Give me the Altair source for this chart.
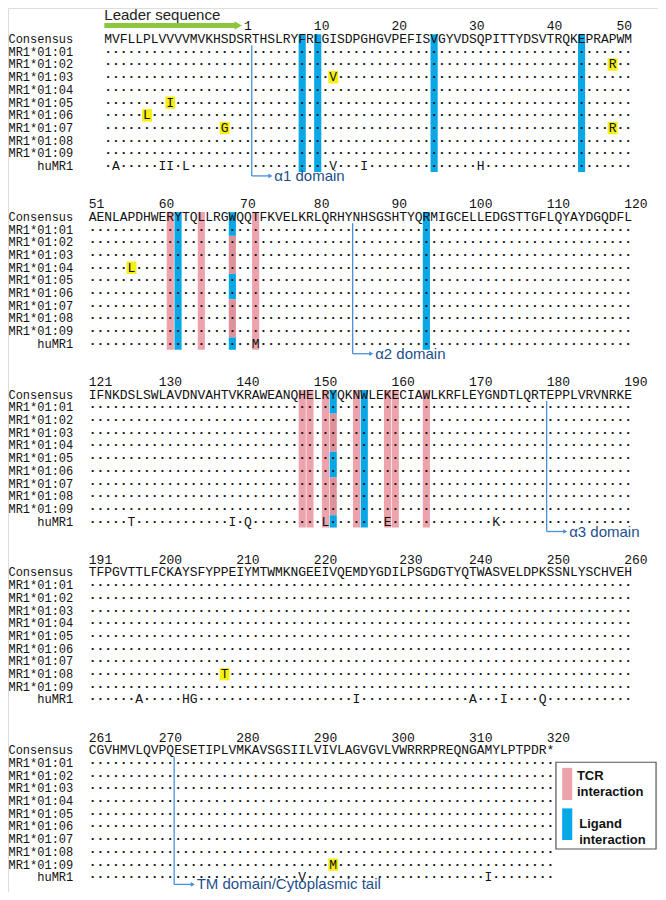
import altair as alt
import pandas as pd

# ---------------- data ----------------
LEADER = "MVFLLPLVVVVMVKHSDS"
MATURE = [
    "RTHSLRYFRLGISDPGHGVPEFISVGYVDSQPITTYDSVTRQKEPRAPWM",
    "AENLAPDHWERYTQLLRGWQQTFKVELKRLQRHYNHSGSHTYQRMIGCELLEDGSTTGFLQYAYDGQDFL",
    "IFNKDSLSWLAVDNVAHTVKRAWEANQHELRYQKNWLEKECIAWLKRFLEYGNDTLQRTEPPLVRVNRKE",
    "TFPGVTTLFCKAYSFYPPEIYMTWMKNGEEIVQEMDYGDILPSGDGTYQTWASVELDPKSSNLYSCHVEH",
    "CGVHMVLQVPQESETIPLVMKAVSGSIILVIVLAGVGVLVWRRRPREQNGAMYLPTPDR*",
]
BLOCK_STARTS = [1, 51, 121, 191, 261]
ROWS = ["Consensus", "MR1*01:01", "MR1*01:02", "MR1*01:03", "MR1*01:04",
        "MR1*01:05", "MR1*01:06", "MR1*01:07", "MR1*01:08", "MR1*01:09", "huMR1"]

ALLELE_MUTATIONS = [
    ("MR1*01:02", 48, "R"),
    ("MR1*01:03", 12, "V"),
    ("MR1*01:04", 56, "L"),
    ("MR1*01:05", -10, "I"),
    ("MR1*01:06", -13, "L"),
    ("MR1*01:07", -3, "G"),
    ("MR1*01:07", 48, "R"),
    ("MR1*01:08", 208, "T"),
    ("MR1*01:09", 292, "M"),
]
HUMAN_DIFFS = [(-17, "A"), (-11, "I"), (-10, "I"), (-8, "L"), (12, "V"), (16, "I"),
               (31, "H"), (72, "M"), (126, "T"), (139, "I"), (141, "Q"), (151, "L"),
               (159, "E"), (173, "K"), (197, "A"), (203, "H"), (204, "G"), (225, "I"),
               (240, "A"), (244, "I"), (249, "Q"), (288, "V"), (312, "I")]

LIGAND_POS = [8, 10, 25, 44, 62, 94, 156]
TCR_POS = [61, 65, 72, 148, 149, 151, 155, 159, 160, 164]
SHARED_POS = [69, 152]
SHARED_TCR_ROWS = ["MR1*01:02", "MR1*01:03", "MR1*01:04",
                   "MR1*01:07", "MR1*01:08", "MR1*01:09"]

TICKS = [[1, 10, 20, 30, 40, 50],
         [51, 60, 70, 80, 90, 100, 110, 120],
         [121, 130, 140, 150, 160, 170, 180, 190],
         [191, 200, 210, 220, 230, 240, 250, 260],
         [261, 270, 280, 290, 300, 310, 320]]
DOMAINS = [(1, "α1 domain"), (84, "α2 domain"), (179, "α3 domain"),
           (271, "TM domain/Cytoplasmic tail")]
LEGEND_ITEMS = [("TCR", "interaction"), ("Ligand", "interaction")]

# ---------------- layout helpers ----------------
LEAD_SHIFT = 2          # block 1 is indented by two character cells
ROW_PITCH_BLOCK = 14    # rows between consecutive blocks
TICK_NUDGE = {50: -1.0, 70: 0.5, 230: 1.0}
MONO = "Liberation Mono"
SANS = "Liberation Sans"
PINK, PINK_DARK, BLUE, YELLOW = "#eca3ab", "#e0929b", "#08a7e6", "#f7ef12"
LINE_BLUE, TEXT_BLUE, GREEN = "#4a90d9", "#1e4f8c", "#8cc63e"
Y_MAX = 67.165


def locate(p):
    if p < 0:
        return 0, p + len(LEADER) + LEAD_SHIFT
    if p <= 50:
        return 0, len(LEADER) + LEAD_SHIFT + p - 1
    for b in range(len(BLOCK_STARTS) - 1, 0, -1):
        if p >= BLOCK_STARTS[b]:
            return b, p - BLOCK_STARTS[b]


positions = list(range(-len(LEADER), 0)) + list(range(1, 321))
residues = LEADER + "".join(MATURE)
mut = {(a, p): aa for a, p, aa in ALLELE_MUTATIONS}
hum = dict(HUMAN_DIFFS)

chars = []
for p, aa in zip(positions, residues):
    b, c = locate(p)
    for r, name in enumerate(ROWS):
        if r == 0:
            ch = aa
        elif name == "huMR1":
            ch = hum.get(p, ".")
        else:
            ch = mut.get((name, p), ".")
        chars.append({"x": c + 0.5, "y": b * ROW_PITCH_BLOCK + r, "ch": ch,
                      "dot": ch == "."})
chars = pd.DataFrame(chars)

ylw = []
for a, p, aa in ALLELE_MUTATIONS:
    b, c = locate(p)
    r = ROWS.index(a)
    y0 = b * ROW_PITCH_BLOCK + r
    ylw.append({"x": c - 0.14, "x2": c + 1.14, "y": y0 - 0.48, "y2": y0 + 0.5})
ylw = pd.DataFrame(ylw)

TOP, BOT = -0.37, 10.47
hl = []
for kind, plist in (("ligand", LIGAND_POS), ("tcr", TCR_POS)):
    for p in plist:
        b, c = locate(p)
        base = b * ROW_PITCH_BLOCK
        hl.append({"x": c + 0.04, "x2": c + 0.96, "y": base + TOP, "y2": base + BOT, "k": kind})
for p in SHARED_POS:
    b, c = locate(p)
    base = b * ROW_PITCH_BLOCK
    kinds = ["tcr2" if n in SHARED_TCR_ROWS else "ligand" for n in ROWS]
    start = 0
    for r in range(1, len(ROWS) + 1):
        if r == len(ROWS) or kinds[r] != kinds[start]:
            y0 = base + (TOP if start == 0 else start - 0.5)
            y1 = base + (BOT if r == len(ROWS) else r - 0.5)
            hl.append({"x": c + 0.04, "x2": c + 0.96, "y": y0, "y2": y1, "k": kinds[start]})
            start = r
hl = pd.DataFrame(hl)

ticks = []
for b, tl in enumerate(TICKS):
    for p in tl:
        _, c = locate(p)
        ticks.append({"x": c + TICK_NUDGE.get(p, 0.0), "y": b * ROW_PITCH_BLOCK - 1, "t": str(p)})
ticks = pd.DataFrame(ticks)

rowlab = pd.DataFrame([{"x": -2.0, "y": b * ROW_PITCH_BLOCK + r, "t": n}
                       for b in range(len(BLOCK_STARTS)) for r, n in enumerate(ROWS)])

dom = []
for p, lab in DOMAINS:
    b, c = locate(p)
    base = b * ROW_PITCH_BLOCK
    ybot = min(base + 10.78, Y_MAX - 0.6)
    dom.append({"x": c + 1, "xh": c + 3.4, "xt": c + 3.9, "ytop": base + 0.5,
                "ybot": ybot, "t": lab})
dom = pd.DataFrame(dom)

X = alt.Scale(domain=[-10.412, 73.35], nice=False, zero=False)
Y = alt.Scale(domain=[-2.441, Y_MAX], nice=False, zero=False, reverse=True)


def xq(f):
    return alt.X(f, type="quantitative", scale=X, axis=None)


def yq(f):
    return alt.Y(f, type="quantitative", scale=Y, axis=None)


hl_layer = alt.Chart(hl).mark_rect().encode(
    x=xq("x"), x2="x2", y=yq("y"), y2="y2",
    color=alt.Color("k:N", scale=alt.Scale(domain=["ligand", "tcr", "tcr2"],
                                           range=[BLUE, PINK, PINK_DARK]), legend=None))

ylw_layer = alt.Chart(ylw).mark_rect(color=YELLOW).encode(
    x=xq("x"), x2="x2", y=yq("y"), y2="y2")

letters = alt.Chart(chars).transform_filter("!datum.dot").mark_text(
    font=MONO, fontSize=13, color="#111", align="center", baseline="middle"
).encode(x=xq("x"), y=yq("y"), text="ch:N")

dots = alt.Chart(chars).transform_filter("datum.dot").mark_text(
    font=MONO, fontSize=13, fontWeight="bold", color="#111", align="center",
    baseline="middle", dy=-3
).encode(x=xq("x"), y=yq("y"), text="ch:N")

tick_layer = alt.Chart(ticks).mark_text(
    font=MONO, fontSize=13, color="#111", align="left", baseline="middle"
).encode(x=xq("x"), y=yq("y"), text="t:N")

row_layer = alt.Chart(rowlab).mark_text(
    font=MONO, fontSize=12, color="#111", align="right", baseline="middle"
).encode(x=xq("x"), y=yq("y"), text="t:N")

vline = alt.Chart(dom).mark_rule(color=LINE_BLUE, strokeWidth=1.3).encode(
    x=xq("x"), y=yq("ytop"), y2="ybot")
hline = alt.Chart(dom).mark_rule(color=LINE_BLUE, strokeWidth=1.3).encode(
    x=xq("x"), x2="xh", y=yq("ybot"))
heads = alt.Chart(dom).mark_point(shape="triangle-right", filled=True, size=22,
                                  color=LINE_BLUE, opacity=1).encode(
    x=xq("xh"), y=yq("ybot"))
dom_text = alt.Chart(dom).mark_text(
    font=SANS, fontSize=15, color=TEXT_BLUE, align="left", baseline="middle"
).encode(x=xq("xt"), y=yq("ybot"), text="t:N")

lead = pd.DataFrame([{"x": LEAD_SHIFT, "x2": 19.0, "y": -1.26, "y2": -0.87,
                      "xh": 19.25, "yh": -1.065, "t": "Leader sequence", "yt": -2.441}])
lead_bar = alt.Chart(lead).mark_rect(color=GREEN).encode(
    x=xq("x"), x2="x2", y=yq("y"), y2="y2")
lead_head = alt.Chart(lead).mark_point(shape="triangle-right", filled=True, size=70,
                                       color=GREEN, opacity=1).encode(
    x=xq("xh"), y=yq("yh"))
lead_text = alt.Chart(lead).mark_text(
    font=SANS, fontSize=15, color="#222", align="left", baseline="top"
).encode(x=xq("x"), y=yq("yt"), text="t:N")

# legend
leg_box = pd.DataFrame([{"x": 60.2, "x2": 73.1, "y": 56.95, "y2": 63.78}])
leg_sw = pd.DataFrame([
    {"x": 61.0, "x2": 62.3, "y": 57.39, "y2": 59.92, "k": "tcr"},
    {"x": 61.0, "x2": 62.3, "y": 60.58, "y2": 63.07, "k": "ligand"},
])
leg_txt = pd.DataFrame([
    {"x": 62.9, "y": 58.0, "t": LEGEND_ITEMS[0][0]},
    {"x": 62.9, "y": 59.3, "t": LEGEND_ITEMS[0][1]},
    {"x": 63.2, "y": 61.8, "t": LEGEND_ITEMS[1][0]},
    {"x": 63.2, "y": 63.07, "t": LEGEND_ITEMS[1][1]},
])
box_layer = alt.Chart(leg_box).mark_rect(fill="white", stroke="#555", strokeWidth=1.2).encode(
    x=xq("x"), x2="x2", y=yq("y"), y2="y2")
sw_layer = alt.Chart(leg_sw).mark_rect().encode(
    x=xq("x"), x2="x2", y=yq("y"), y2="y2",
    color=alt.Color("k:N", scale=alt.Scale(domain=["ligand", "tcr", "tcr2"],
                                           range=[BLUE, PINK, PINK_DARK]), legend=None))
lt_layer = alt.Chart(leg_txt).mark_text(
    font=SANS, fontSize=13, fontWeight="bold", color="#111", align="left", baseline="middle"
).encode(x=xq("x"), y=yq("y"), text="t:N")

chart = alt.layer(
    hl_layer, ylw_layer, letters, dots, tick_layer, row_layer,
    vline, hline, heads, dom_text, lead_bar, lead_head, lead_text,
    box_layer, sw_layer, lt_layer
).properties(
    width=650, height=884, padding=0,
    autosize=alt.AutoSizeParams(type="none")
).configure_view(stroke=None).configure(background="white")

chart.save("out.html", embed_options={"renderer": "svg", "actions": False})
